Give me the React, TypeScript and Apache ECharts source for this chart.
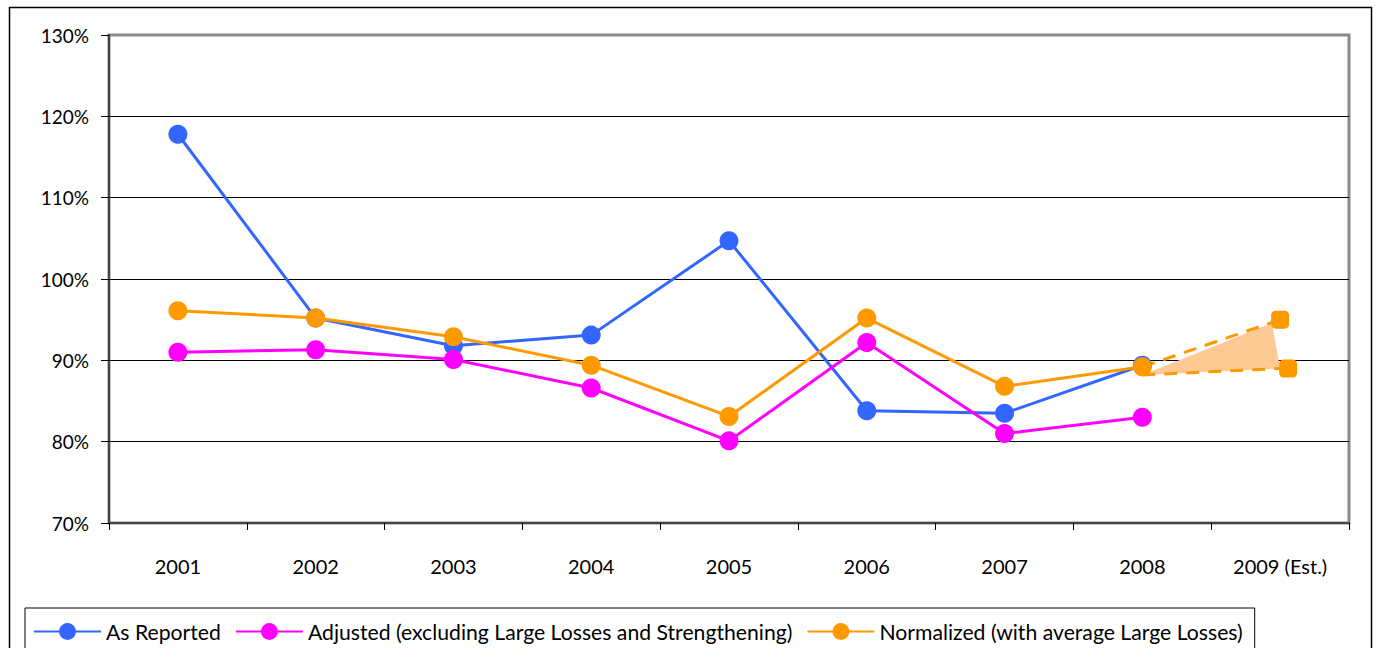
import React, { useEffect, useRef } from "react";
import * as echarts from "echarts";

const categories = ["2001", "2002", "2003", "2004", "2005", "2006", "2007", "2008", "2009 (Est.)"];
const asReported = [117.8, 95.2, 91.8, 93.1, 104.7, 83.8, 83.5, 89.4, null];
const adjusted = [91.0, 91.3, 90.1, 86.6, 80.1, 92.2, 81.0, 83.0, null];
const normalized = [96.1, 95.2, 92.9, 89.4, 83.1, 95.2, 86.8, 89.2, null];
// 2009 estimate range (high / low) starting from 2008
const estHigh = [89.2, 95.0];
const estLow = [88.2, 89.0];
const estRange = [[7, 88.2, 8, 94.6, 89.0]];
const yTicks = { min: 70, max: 130, interval: 10 };

const FONT = "Lato";

export default function App() {
  const ref = useRef<HTMLDivElement>(null);
  useEffect(() => {
    const chart = echarts.init(ref.current!, null, { renderer: "svg" });
    const pad = (arr: any[]) => [null, null, null, null, null, null, null, ...arr];
    chart.setOption({
      animation: false,
      textStyle: { fontFamily: FONT, color: "#000" },
      grid: {
        left: 109,
        top: 35,
        right: 28,
        bottom: 125,
        show: true,
        borderColor: "#8a8a8a",
        borderWidth: 3,
        backgroundColor: "transparent",
      },
      graphic: [
        {
          type: "rect",
          shape: { x: 9.5, y: 7.5, width: 1362, height: 700 },
          style: { fill: "none", stroke: "#000", lineWidth: 1.5 },
          silent: true,
        },
      ],
      legend: {
        left: 25,
        top: 608,
        padding: [13, 12, 20, 8],
        borderColor: "#000",
        borderWidth: 1,
        itemWidth: 67,
        itemHeight: 21,
        itemGap: 14,
        data: ["As Reported", "Adjusted (excluding Large Losses and Strengthening)", "Normalized (with average Large Losses)"],
        textStyle: { fontFamily: FONT, fontSize: 21.2, color: "#000" },
      },
      xAxis: {
        type: "category",
        data: categories,
        boundaryGap: true,
        axisLine: { lineStyle: { color: "#444", width: 2 } },
        axisTick: { show: true, length: 7, lineStyle: { color: "#000", width: 1 } },
        axisLabel: { fontFamily: FONT, fontSize: 20, color: "#000", margin: 33 },
        splitLine: { show: false },
      },
      yAxis: {
        type: "value",
        min: yTicks.min,
        max: yTicks.max,
        interval: yTicks.interval,
        axisLine: { show: true, lineStyle: { color: "#444", width: 2 } },
        axisTick: { show: true, length: 8, lineStyle: { color: "#000", width: 1 } },
        axisLabel: { fontFamily: FONT, fontSize: 19, color: "#000", margin: 20, formatter: "{value}%" },
        splitLine: { show: true, showMaxLine: false, lineStyle: { color: "#000", width: 1 } },
      },
      series: [
        {
          type: "custom",
          name: "range",
          silent: true,
          z: 1,
          data: estRange,
          renderItem: (params: any, api: any) => {
            const p1 = api.coord([api.value(0), api.value(1)]);
            const p2 = api.coord([api.value(2), api.value(3)]);
            const p3 = api.coord([api.value(2), api.value(4)]);
            const bw = api.size([1, 0])[0];
            return {
              type: "polygon",
              shape: { points: [p1, [p2[0] - bw * 0.06, p2[1]], p3] },
              style: { fill: "#FDC995", stroke: "none" },
            };
          },
        },
        {
          type: "line",
          name: "estHigh",
          z: 2,
          data: pad([
            { value: estHigh[0], symbol: "none" },
            { value: estHigh[1], symbol: "roundRect", symbolSize: 18 },
          ]),
          lineStyle: { color: "#FF9900", width: 3, type: [13, 9] },
          itemStyle: { color: "#FF9900" },
        },
        {
          type: "line",
          name: "estLow",
          z: 2,
          data: pad([
            { value: estLow[0], symbol: "none" },
            { value: estLow[1], symbol: "roundRect", symbolSize: 18, symbolOffset: [8, 0] },
          ]),
          lineStyle: { color: "#FF9900", width: 3, type: [13, 9] },
          itemStyle: { color: "#FF9900" },
        },
        {
          type: "line",
          name: "As Reported",
          z: 3,
          data: asReported,
          symbol: "circle",
          symbolSize: 19,
          lineStyle: { color: "#3366FF", width: 3 },
          itemStyle: { color: "#3366FF" },
        },
        {
          type: "line",
          name: "Adjusted (excluding Large Losses and Strengthening)",
          z: 4,
          data: adjusted,
          symbol: "circle",
          symbolSize: 19,
          lineStyle: { color: "#FF00FF", width: 3 },
          itemStyle: { color: "#FF00FF" },
        },
        {
          type: "line",
          name: "Normalized (with average Large Losses)",
          z: 5,
          data: normalized,
          symbol: "circle",
          symbolSize: 19,
          lineStyle: { color: "#FF9900", width: 3 },
          itemStyle: { color: "#FF9900" },
        },
      ],
    });
    return () => chart.dispose();
  }, []);
  return (
    <div
      ref={ref}
      style={{ position: "fixed", left: 0, top: 0, width: 1377, height: 648, background: "#fff" }}
    />
  );
}
